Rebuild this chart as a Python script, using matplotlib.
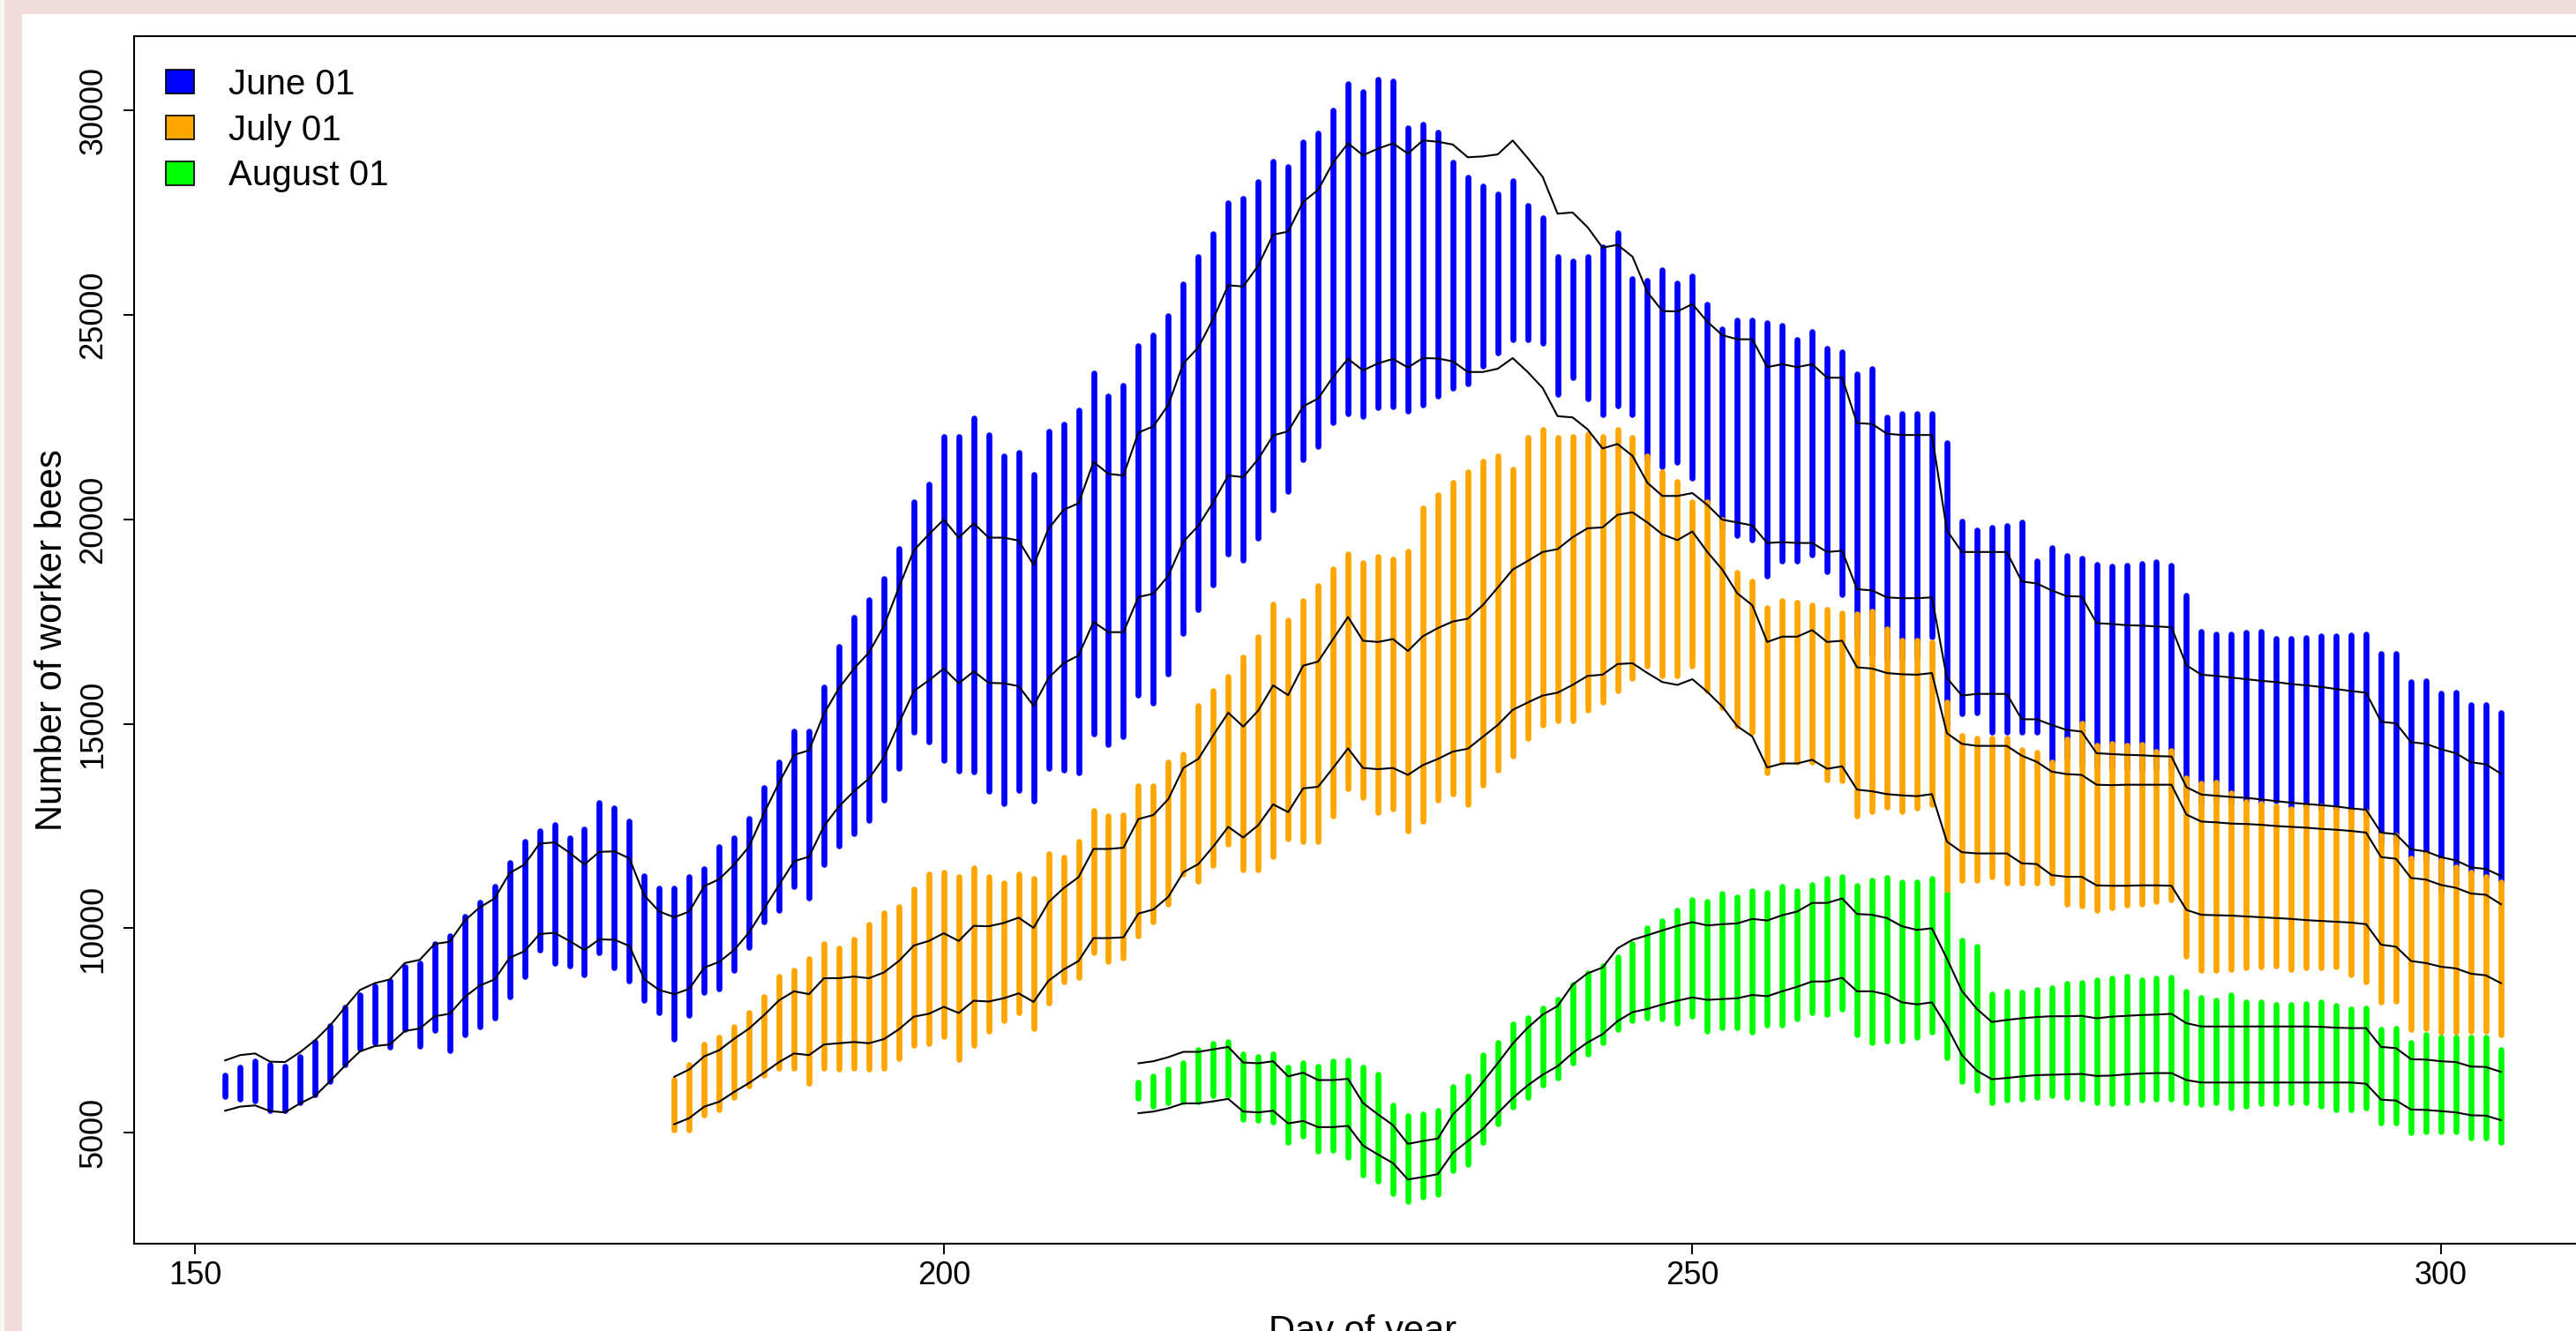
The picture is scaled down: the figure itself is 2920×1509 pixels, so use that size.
import matplotlib
matplotlib.use('Agg')
import matplotlib.pyplot as plt
from matplotlib.patches import Patch, Rectangle
import numpy as np

#data
days_jun = np.arange(152, 305)
days_jul = np.arange(182, 305)
days_aug = np.arange(213, 305)

jun_hi = [6770, 6900, 6940, 6740, 6730, 6970, 7260, 7620, 8060, 8490,
          8660, 8750, 9150, 9230, 9620, 9670, 10190, 10510, 10730, 11350,
          11560, 12070, 12100, 11850, 11560, 11870, 11880, 11710, 10800, 10410,
          10270, 10410, 11030, 11200, 11560, 12000, 12820, 13560, 14240, 14350,
          15250, 15870, 16350, 16740, 17390, 18330, 19240, 19630, 19990, 19550,
          19900, 19550, 19550, 19480, 18880, 19770, 20230, 20390, 21400, 21110,
          21070, 22120, 22270, 22800, 23810, 24200, 24900, 25720, 25690, 26200,
          26960, 27030, 27760, 28050, 28720, 29190, 28900, 29060, 29190, 28940,
          29260, 29230, 29160, 28850, 28870, 28920, 29260, 28830, 28370, 27470,
          27500, 27140, 26640, 26710, 26420, 25550, 25090, 25080, 25260, 24830,
          24500, 24400, 24400, 23720, 23790, 23720, 23790, 23460, 23460, 22350,
          22330, 22090, 22060, 22060, 22060, 19730, 19200, 19200, 19200, 19200,
          18480, 18430, 18260, 18120, 18110, 17460, 17440, 17410, 17400, 17380,
          17360, 16430, 16200, 16170, 16130, 16090, 16050, 16020, 15970, 15940,
          15900, 15850, 15800, 15760, 15050, 15010, 14550, 14510, 14380, 14280,
          14060, 14010, 13780]
jun_lo = [5540, 5640, 5670, 5530, 5500, 5720, 5900, 6260, 6640, 6990,
          7120, 7160, 7490, 7550, 7850, 7910, 8320, 8600, 8750, 9280,
          9440, 9860, 9890, 9690, 9470, 9730, 9720, 9570, 8750, 8490,
          8390, 8520, 9040, 9180, 9470, 9900, 10480, 11060, 11640, 11750,
          12500, 12980, 13350, 13660, 14180, 15010, 15800, 16060, 16350, 15990,
          16280, 16000, 15990, 15920, 15440, 16120, 16480, 16670, 17490, 17240,
          17240, 18100, 18180, 18620, 19450, 19840, 20420, 21070, 21030, 21470,
          22050, 22150, 22760, 22950, 23480, 23920, 23640, 23810, 23920, 23710,
          23940, 23930, 23860, 23600, 23600, 23680, 23940, 23600, 23210, 22520,
          22490, 22200, 21730, 21840, 21550, 20890, 20570, 20570, 20640, 20350,
          19990, 19920, 19850, 19420, 19440, 19420, 19420, 19200, 19230, 18290,
          18260, 18090, 18070, 18070, 18090, 16120, 15690, 15730, 15730, 15730,
          15110, 15110, 14970, 14850, 14810, 14280, 14260, 14240, 14230, 14210,
          14200, 13450, 13270, 13240, 13210, 13190, 13150, 13110, 13070, 13040,
          13010, 12980, 12930, 12900, 12340, 12300, 11930, 11880, 11740, 11660,
          11490, 11450, 11280]
jun_max = [6410, 6610, 6760, 6660, 6630, 6870, 7230, 7620, 8060, 8370,
           8580, 8720, 9070, 9150, 9620, 9820, 10280, 10630, 11030, 11610,
           12130, 12390, 12530, 12210, 12430, 13080, 12940, 12620, 11280, 10990,
           10990, 11260, 11460, 12000, 12210, 12680, 13430, 14060, 14810, 14810,
           15900, 16880, 17610, 18040, 18540, 19290, 20420, 20850, 22010, 22010,
           22470, 22070, 21550, 21630, 21090, 22150, 22330, 22660, 23570, 23020,
           23280, 24250, 24510, 24970, 25760, 26410, 26990, 27740, 27840, 28250,
           28750, 28610, 29230, 29430, 29990, 30640, 30460, 30750, 30700, 29560,
           29660, 29450, 28730, 28370, 28150, 27960, 28270, 27680, 27360, 26420,
           26320, 26420, 26660, 27000, 25870, 25840, 26090, 25770, 25940, 25260,
           24660, 24870, 24870, 24800, 24730, 24400, 24590, 24180, 24080, 23560,
           23680, 22490, 22590, 22590, 22590, 21870, 19960, 19730, 19810, 19850,
           19920, 18980, 19300, 19110, 19050, 18900, 18850, 18880, 18920, 18960,
           18880, 18130, 17250, 17180, 17190, 17230, 17250, 17080, 17090, 17110,
           17150, 17150, 17170, 17180, 16710, 16720, 16030, 16040, 15750, 15760,
           15470, 15470, 15280]
jun_min = [5900, 5830, 5790, 5540, 5540, 5750, 5930, 6260, 6660, 7050,
           7200, 7090, 7540, 7120, 7510, 7020, 7390, 7590, 7810, 8320,
           8820, 9470, 9150, 9080, 8860, 9400, 9040, 8720, 8240, 7940,
           7300, 7880, 8430, 8520, 8970, 9540, 10160, 10450, 11020, 10740,
           11560, 12020, 12310, 12650, 13130, 13920, 14790, 14560, 14100, 13850,
           13820, 13350, 13060, 13370, 13110, 13920, 13880, 13810, 14750, 14500,
           14690, 15700, 15510, 16230, 17220, 17790, 18400, 19150, 19010, 19530,
           20220, 20680, 21460, 21780, 22370, 22590, 22510, 22730, 22760, 22640,
           22800, 23020, 23210, 23310, 23750, 24070, 24400, 24400, 24300, 23050,
           23460, 22950, 22550, 22770, 22560, 21470, 21290, 21390, 21000, 20350,
           19780, 19600, 19490, 18620, 18980, 18980, 19130, 18720, 18150, 17110,
           16670, 16560, 16600, 16630, 17130, 15000, 15260, 15270, 14790, 14790,
           14790, 14790, 14070, 14140, 14030, 13970, 13910, 13910, 13880, 13910,
           13910, 13220, 13050, 13110, 13050, 13110, 13050, 13110, 12990, 12990,
           12930, 12930, 12870, 12820, 12120, 12070, 11660, 11660, 10910, 11080,
           11370, 11260, 11140]

jul_hi = [6370, 6550, 6870, 7020, 7300, 7550, 7880, 8240, 8460, 8390,
          8780, 8780, 8820, 8780, 8920, 9200, 9580, 9690, 9880, 9690,
          10060, 10050, 10130, 10260, 10010, 10640, 10980, 11250, 11940, 11940,
          11970, 12670, 12770, 13160, 13920, 14140, 14720, 15270, 14930, 15320,
          15940, 15700, 16420, 16520, 17070, 17610, 17030, 17000, 17070, 16780,
          17140, 17340, 17500, 17570, 17900, 18330, 18770, 18980, 19200, 19270,
          19560, 19780, 19800, 20110, 20170, 19920, 19630, 19490, 19700, 19200,
          18770, 18190, 17900, 17000, 17130, 17130, 17290, 17000, 17030, 16380,
          16350, 16240, 16210, 16200, 16240, 14770, 14510, 14460, 14460, 14460,
          14220, 14070, 13830, 13770, 13750, 13510, 13500, 13510, 13510, 13510,
          13510, 12780, 12610, 12590, 12560, 12550, 12530, 12500, 12480, 12460,
          12430, 12410, 12380, 12340, 11740, 11700, 11230, 11190, 11060, 10990,
          10850, 10820, 10590]
jul_lo = [5210, 5360, 5640, 5760, 6000, 6220, 6470, 6730, 6940, 6900,
          7160, 7190, 7220, 7190, 7290, 7530, 7840, 7910, 8080, 7930,
          8230, 8210, 8290, 8410, 8200, 8720, 8990, 9200, 9760, 9760,
          9780, 10360, 10460, 10770, 11370, 11570, 12000, 12480, 12220, 12520,
          13030, 12840, 13420, 13460, 13920, 14400, 13920, 13890, 13920, 13750,
          13990, 14140, 14320, 14390, 14680, 14970, 15340, 15520, 15690, 15760,
          15950, 16170, 16200, 16460, 16480, 16240, 16020, 15950, 16090, 15780,
          15420, 14940, 14690, 13930, 14030, 14030, 14120, 13900, 13960, 13390,
          13350, 13280, 13250, 13230, 13280, 12120, 11860, 11830, 11830, 11830,
          11590, 11570, 11300, 11260, 11260, 11050, 11040, 11040, 11050, 11050,
          11040, 10450, 10330, 10320, 10310, 10290, 10270, 10250, 10230, 10200,
          10180, 10160, 10140, 10100, 9600, 9550, 9200, 9150, 9060, 9020,
          8890, 8850, 8660]
jul_max = [6290, 6660, 7160, 7330, 7590, 7950, 8320, 8820, 8970, 9250,
           9620, 9520, 9740, 10100, 10380, 10530, 10960, 11320, 11370, 11250,
           11470, 11250, 11110, 11320, 11210, 11830, 11730, 12120, 12880, 12740,
           12770, 13490, 13490, 14070, 14250, 15440, 15800, 16160, 16640, 17130,
           17920, 17530, 18000, 18370, 18790, 19150, 18930, 19080, 19020, 19220,
           20280, 20590, 20900, 21150, 21410, 21550, 21220, 21990, 22190, 21990,
           22010, 22090, 22010, 22190, 21990, 21550, 21150, 20930, 20430, 20430,
           19990, 18690, 18480, 17830, 18000, 17970, 17900, 17800, 17710, 17680,
           17760, 17320, 17030, 17030, 16990, 15520, 14720, 14650, 14650, 14650,
           14360, 14290, 14070, 14630, 15010, 14470, 14510, 14470, 14490, 14320,
           14350, 13680, 13540, 13570, 13310, 13100, 13050, 12990, 12930, 12990,
           12990, 12930, 12870, 12850, 12300, 12270, 11720, 11830, 11660, 11490,
           11370, 11260, 11140]
jul_min = [5070, 5070, 5430, 5570, 5860, 6150, 6410, 6580, 6580, 6220,
           6580, 6570, 6580, 6550, 6580, 6810, 7150, 7190, 7350, 6790,
           7140, 7480, 7750, 7940, 7550, 8180, 8700, 8810, 9400, 9200,
           9270, 9810, 10170, 10600, 11320, 11150, 11540, 12050, 11430, 11440,
           11760, 12190, 12120, 12120, 12740, 13420, 13200, 12840, 12910, 12380,
           12620, 13130, 13280, 13030, 13500, 13860, 14220, 14650, 14970, 15080,
           15080, 15340, 15520, 15810, 16120, 16410, 16170, 16170, 16410, 15810,
           15400, 14940, 14790, 13810, 14070, 14070, 14070, 13640, 13610, 12740,
           12850, 12960, 12850, 12950, 13030, 10820, 11180, 11180, 11260, 11110,
           11110, 11110, 11110, 10590, 10540, 10450, 10510, 10560, 10590, 10660,
           10700, 9320, 8970, 8970, 9000, 9030, 9060, 9080, 9000, 9030,
           9040, 9060, 8870, 8690, 8200, 8220, 7540, 7560, 7470, 7470,
           7490, 7490, 7390]

aug_hi = [6700, 6750, 6850, 6980, 6980, 7040, 7100, 6720, 6700, 6750,
          6380, 6470, 6290, 6290, 6320, 5730, 5450, 5190, 4730, 4800,
          4860, 5450, 5800, 6240, 6700, 7180, 7570, 7890, 8100, 8620,
          8900, 9040, 9510, 9720, 9830, 9950, 10060, 10150, 10070, 10100,
          10120, 10230, 10190, 10320, 10410, 10620, 10620, 10730, 10350, 10330,
          10250, 10050, 9960, 10000, 9260, 8470, 8030, 7710, 7760, 7800,
          7830, 7850, 7850, 7860, 7800, 7840, 7860, 7880, 7890, 7910,
          7680, 7600, 7600, 7600, 7600, 7600, 7600, 7600, 7600, 7590,
          7570, 7560, 7560, 7100, 7070, 6800, 6790, 6750, 6730, 6620,
          6610, 6490]
aug_lo = [5480, 5520, 5600, 5720, 5720, 5770, 5830, 5520, 5500, 5540,
          5230, 5290, 5140, 5140, 5170, 4690, 4470, 4260, 3860, 3920,
          3990, 4510, 4800, 5090, 5480, 5850, 6160, 6420, 6630, 6950,
          7210, 7410, 7730, 7950, 8030, 8140, 8230, 8310, 8250, 8270,
          8290, 8370, 8340, 8460, 8570, 8700, 8700, 8790, 8460, 8460,
          8380, 8190, 8140, 8190, 7600, 6900, 6520, 6310, 6340, 6380,
          6410, 6420, 6430, 6440, 6390, 6400, 6430, 6450, 6460, 6460,
          6290, 6230, 6230, 6230, 6230, 6230, 6230, 6230, 6230, 6230,
          6230, 6230, 6200, 5810, 5790, 5570, 5560, 5530, 5500, 5430,
          5420, 5310]
aug_max = [6240, 6390, 6560, 6700, 7040, 7190, 7230, 6920, 6870, 6920,
           6600, 6700, 6630, 6760, 6780, 6610, 6440, 5680, 5410, 5450,
           5550, 6130, 6380, 6900, 7210, 7670, 7800, 8050, 8260, 8640,
           8900, 9080, 9290, 9630, 10010, 10180, 10440, 10690, 10660, 10860,
           10770, 10920, 10870, 11030, 10910, 11070, 11210, 11250, 11050, 11180,
           11230, 11130, 11130, 11220, 10820, 9700, 9560, 8390, 8450, 8430,
           8500, 8550, 8660, 8680, 8740, 8770, 8830, 8740, 8770, 8800,
           8450, 8310, 8250, 8370, 8200, 8200, 8140, 8140, 8160, 8200,
           8110, 8020, 8050, 7540, 7560, 7210, 7390, 7330, 7330, 7330,
           7330, 7040]
aug_min = [5840, 5660, 5730, 5770, 5770, 5910, 5910, 5340, 5300, 5270,
           4760, 4910, 4550, 4580, 4400, 3970, 3830, 3520, 3320, 3430,
           3500, 4080, 4240, 4760, 5230, 5630, 5880, 6180, 6340, 6700,
           6920, 7210, 7540, 7750, 7820, 7780, 7690, 7850, 7490, 7570,
           7570, 7460, 7640, 7640, 7780, 7930, 7890, 8030, 7390, 7210,
           7240, 7260, 7340, 7470, 6830, 6250, 6040, 5730, 5810, 5820,
           5880, 5910, 5880, 5830, 5730, 5710, 5730, 5800, 5830, 5830,
           5750, 5690, 5730, 5620, 5650, 5710, 5710, 5730, 5730, 5650,
           5570, 5570, 5600, 5250, 5250, 5000, 5020, 5020, 5020, 4880,
           4880, 4760]

labels = ['June 01', 'July 01', 'August 01']
colors = ['#0000FF', '#FFA500', '#00FF00']

series = [
    (days_jun, jun_min, jun_max, jun_lo, jun_hi),
    (days_jul, jul_min, jul_max, jul_lo, jul_hi),
    (days_aug, aug_min, aug_max, aug_lo, aug_hi),
]

#figure
plt.rcParams['font.family'] = ['Liberation Sans', 'DejaVu Sans']
W, H = 2920, 1509
fig = plt.figure(figsize=(W / 100, H / 100), dpi=100, facecolor='#efdcdb')
fig.patches.append(Rectangle((0, 0), 5 / W, 1, transform=fig.transFigure,
                             facecolor='#f6f6f2', edgecolor='none', zorder=-10))
fig.patches.append(Rectangle((25 / W, 0), 1, 1 - 16 / H, transform=fig.transFigure,
                             facecolor='white', edgecolor='none', zorder=-10))

ax = fig.add_axes([152 / W, 99 / H, 2786 / W, 1369 / H])

#points: each day's runs as a column of dots
for (d, lo, hi, _, _), c in zip(series, colors):
    ax.vlines(d, lo, hi, colors=c, linewidth=4.8, capstyle='round', zorder=2)

#band lines
for d, _, _, lo, hi in series:
    ax.plot(d, hi, color='black', linewidth=1.5, zorder=3)
    ax.plot(d, lo, color='black', linewidth=1.5, zorder=3)

ax.set_xlim(145.92, 310.08)
ax.set_ylim(2290, 31810)
ax.set_xticks([150, 200, 250, 300])
ax.set_yticks([5000, 10000, 15000, 20000, 25000, 30000])
ax.set_yticklabels(['5000', '10000', '15000', '20000', '25000', '30000'],
                   rotation=90, va='center')
ax.tick_params(direction='out', length=8.6, width=1.4, labelsize=26)
ax.tick_params(axis='x', pad=5)
ax.tick_params(axis='y', pad=12)
for s in ax.spines.values():
    s.set_linewidth(1.5)

ax.set_xlabel('Day of year', fontsize=30, labelpad=19)
ax.set_ylabel('Number of worker bees', fontsize=30, labelpad=7)

handles = [Patch(facecolor=c, edgecolor='black', linewidth=1.2) for c in colors]
ax.legend(handles, labels, loc='upper left', fontsize=29, frameon=False,
          bbox_to_anchor=(188 / W, 1 - 77 / H), bbox_transform=fig.transFigure,
          borderaxespad=0, borderpad=0, handlelength=0.8, handleheight=0.66,
          handletextpad=0.97, labelspacing=0.34)

fig.savefig('out.png', dpi=100, facecolor=fig.get_facecolor())
